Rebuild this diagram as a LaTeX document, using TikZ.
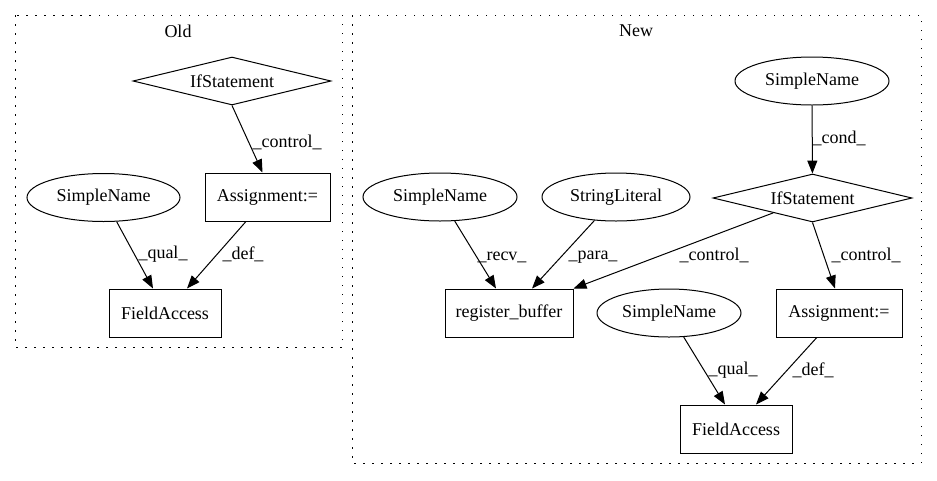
\documentclass[tikz,border=0pt]{standalone}
\usepackage{fontspec}
\setmainfont{Liberation Serif}
\usetikzlibrary{shapes.geometric,arrows.meta}

\tikzset{
  every node/.style={font=\fontsize{18}{20}\selectfont, inner sep=0pt},
  ellnode/.style={draw, ellipse, line width=1pt, minimum height=48pt},
  diamnode/.style={draw, diamond, aspect=4.1, line width=1pt, minimum width=198pt, minimum height=48pt},
  boxnode/.style={draw, rectangle, line width=1pt, minimum height=48pt},
  cluster/.style={line width=1pt, dash pattern=on 1.5pt off 7.5pt},
  edgearrow/.style={-{Triangle[length=13pt,width=10pt]}, line width=1pt},
}

\begin{document}
\begin{tikzpicture}[x=1pt,y=-1pt]
  \useasboundingbox (0,0) rectangle (937,480);
  % clusters
  \draw[cluster] (15,15) rectangle (342,347);
  \draw[cluster] (352,15) rectangle (921,463);
  \node (oldlbl) at (178,31) {Old};
  \node (newlbl) at (636,31) {New};

  % Old
  \node[diamnode] (ifO) at (232,81) {IfStatement};
  \node[boxnode, minimum width=125pt] (asO) at (267.5,197) {Assignment:=};
  \node[ellnode, minimum width=153pt] (snO) at (103.5,197.5) {SimpleName};
  \node[boxnode, minimum width=112pt] (faO) at (165,313) {FieldAccess};

  \draw[edgearrow] (ifO.south) -- ([xshift=-5pt]asO.north);
  \draw[edgearrow] (snO) -- ([xshift=-12pt]faO.north);
  \draw[edgearrow] (asO) -- ([xshift=22pt]faO.north);
  \node (lcO) at (287,142) {\_control\_};
  \node (lqO) at (163,254) {\_qual\_};
  \node (ldO) at (243,254) {\_def\_};

  % New
  \node[ellnode, minimum width=154pt] (snC) at (812,81) {SimpleName};
  \node[diamnode, minimum width=199pt] (ifN) at (812.5,198) {IfStatement};
  \node[ellnode, minimum width=154pt] (snR) at (440,197) {SimpleName};
  \node[ellnode, minimum width=148pt] (slP) at (616,197) {StringLiteral};
  \node[boxnode, minimum width=128pt] (rb) at (509,313) {register\_buffer};
  \node[ellnode, minimum width=144pt] (snQ) at (669,313) {SimpleName};
  \node[boxnode, minimum width=126pt] (asN) at (839,313) {Assignment:=};
  \node[boxnode, minimum width=112pt] (faN) at (736,429) {FieldAccess};

  \draw[edgearrow] (snC) -- (ifN);
  \draw[edgearrow] (snR) -- ([xshift=-13pt]rb.north);
  \draw[edgearrow] (slP) -- ([xshift=23pt]rb.north);
  \draw[edgearrow] (ifN) -- (rb.north east);
  \draw[edgearrow] (ifN.south) -- ([xshift=-4pt]asN.north);
  \draw[edgearrow] (snQ) -- ([xshift=-11pt]faN.north);
  \draw[edgearrow] (asN) -- ([xshift=20pt]faN.north);
  \node (lcN) at (839,138) {\_cond\_};
  \node (lrN) at (502,257) {\_recv\_};
  \node (lpN) at (593,257) {\_para\_};
  \node (lc1N) at (714,255) {\_control\_};
  \node (lc2N) at (866,255) {\_control\_};
  \node (lqN) at (733,370) {\_qual\_};
  \node (ldN) at (813,370) {\_def\_};
\end{tikzpicture}
\end{document}
